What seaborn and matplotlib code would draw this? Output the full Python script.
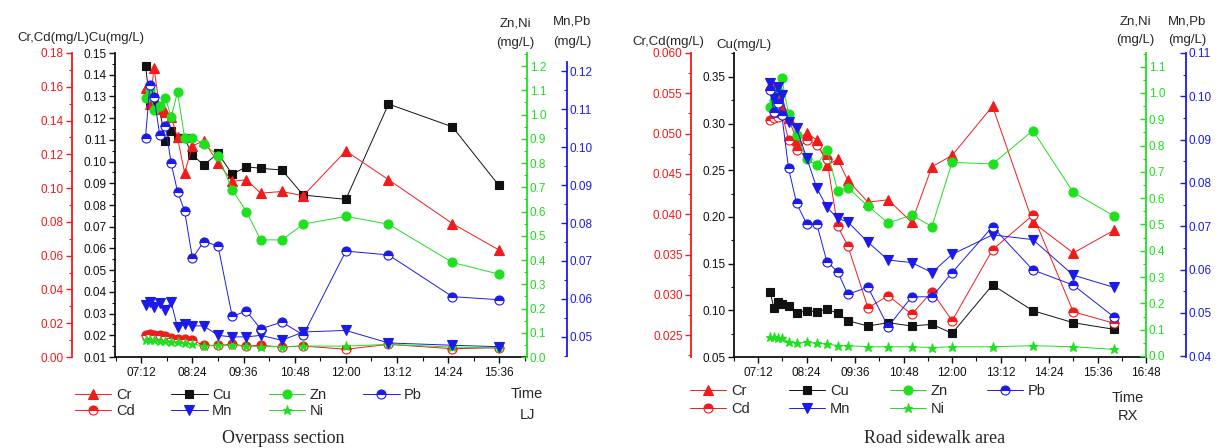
import numpy as np
import pandas as pd
import seaborn as sns
import matplotlib
matplotlib.use("Agg")
import matplotlib.pyplot as plt
from matplotlib.ticker import MultipleLocator, FormatStrFormatter, FuncFormatter

sns.set_style("white")
plt.rcParams['font.family'] = ['Liberation Sans', 'DejaVu Sans']

# ---- data: overpass section (LJ)
lj_time = ["07:18", "07:24", "07:30", "07:38", "07:46", "07:54", "08:03", "08:13", "08:24", "08:40",
           "09:00", "09:20", "09:40", "10:00", "10:30", "11:00", "12:00", "13:00", "14:30", "15:35"]
lj_cr = [0.159, 0.150, 0.171, 0.147, 0.145, 0.142, 0.130, 0.109, 0.125, 0.128,
         0.115, 0.104, 0.105, 0.097, 0.098, 0.0955, 0.122, 0.105, 0.079, 0.0635]
lj_cd = [0.0130, 0.0138, 0.0130, 0.0130, 0.0125, 0.0114, 0.0109, 0.0109, 0.0099, 0.0069,
         0.0069, 0.0075, 0.0065, 0.0069, 0.0059, 0.0065, 0.0046, 0.0075, 0.0049, 0.0055]
lj_cu = [0.144, 0.1276, 0.126, 0.1237, 0.1094, 0.114, 0.111, 0.1107, 0.103, 0.0984,
         0.1038, 0.0942, 0.0976, 0.0969, 0.0961, 0.0846, 0.0826, 0.1265, 0.116, 0.0892]
lj_zn = [1.069, 1.10, 1.019, 1.037, 1.069, 0.989, 1.092, 0.904, 0.904, 0.879,
         0.831, 0.69, 0.60, 0.483, 0.483, 0.548, 0.58, 0.548, 0.39, 0.342]
lj_ni = [0.070, 0.070, 0.070, 0.068, 0.066, 0.062, 0.060, 0.058, 0.054, 0.045,
         0.048, 0.048, 0.045, 0.043, 0.043, 0.045, 0.045, 0.052, 0.041, 0.037]
lj_mn = [0.0584, 0.0592, 0.0579, 0.0588, 0.0572, 0.0592, 0.0525, 0.0535, 0.0529, 0.0529,
         0.0504, 0.0500, 0.0500, 0.0504, 0.0491, 0.0513, 0.0517, 0.0484, 0.0478, 0.0474]
lj_pb = [0.1025, 0.1165, 0.1133, 0.1031, 0.1056, 0.0958, 0.0883, 0.0832, 0.0707, 0.0751,
         0.0740, 0.0554, 0.0568, 0.0521, 0.0539, 0.0505, 0.0726, 0.0716, 0.0606, 0.0598]

# ---- data: road sidewalk area (RX)
rx_time = ["07:30", "07:35", "07:41", "07:47", "07:57", "08:09", "08:24", "08:39", "08:54", "09:10",
           "09:25", "09:55", "10:25", "11:00", "11:30", "12:00", "13:00", "14:00", "15:00", "16:00"]
rx_cr = [0.0560, 0.0557, 0.0548, 0.0532, 0.0519, 0.0492, 0.0501, 0.0492, 0.0461, 0.0468,
         0.0442, 0.0415, 0.0418, 0.0390, 0.0459, 0.0473, 0.0534, 0.0390, 0.0352, 0.0380]
rx_cd = [0.0517, 0.0519, 0.0521, 0.0527, 0.0492, 0.0480, 0.0492, 0.0486, 0.0468, 0.0385,
         0.0361, 0.0284, 0.0299, 0.0276, 0.0304, 0.0268, 0.0356, 0.0399, 0.0279, 0.0265]
rx_cu = [0.1193, 0.1028, 0.1092, 0.1067, 0.1046, 0.0968, 0.0996, 0.0985, 0.1014, 0.0968,
         0.0889, 0.0832, 0.0867, 0.0832, 0.0850, 0.0754, 0.1271, 0.0996, 0.0867, 0.0797]
rx_zn = [0.948, 0.973, 1.009, 1.056, 0.920, 0.840, 0.749, 0.726, 0.783, 0.629,
         0.640, 0.570, 0.505, 0.536, 0.492, 0.736, 0.730, 0.857, 0.622, 0.533]
rx_ni = [0.072, 0.072, 0.070, 0.0665, 0.054, 0.051, 0.052, 0.048, 0.046, 0.039,
         0.039, 0.035, 0.035, 0.035, 0.032, 0.035, 0.035, 0.039, 0.035, 0.025]
rx_mn = [0.1030, 0.0995, 0.1021, 0.1003, 0.0941, 0.0926, 0.0858, 0.0788, 0.0744, 0.0718,
         0.0710, 0.0663, 0.0622, 0.0616, 0.0593, 0.0635, 0.0680, 0.0669, 0.0587, 0.0559]
rx_pb = [0.1015, 0.0964, 0.0985, 0.0957, 0.0834, 0.0753, 0.0705, 0.0705, 0.0618, 0.0595,
         0.0543, 0.0559, 0.0468, 0.0537, 0.0537, 0.0593, 0.0699, 0.0599, 0.0564, 0.0491]

RED = '#F21B1B'
GREEN = '#1EE01E'
BLUE = '#1B1BE8'
BLACK = '#111111'

W, H = 1218, 448
fig = plt.figure(figsize=(W / 100, H / 100), dpi=100)


def to_min(ts):
    return [int(t[:2]) * 60 + int(t[3:]) for t in ts]


def hhmm(v, pos):
    v = int(round(v))
    return f"{v // 60:02d}:{v % 60:02d}"


def ftxt(x, y, s, **kw):
    kw.setdefault('ha', 'center')
    kw.setdefault('va', 'center')
    fig.text(x / W, 1 - y / H, s, **kw)


def series(ax, x, y, color, marker, half=False, ms=6.5, label=None):
    kw = dict(color=color, marker=marker, markersize=ms, linewidth=0.7,
              markeredgecolor=color, markeredgewidth=0.8, label=label, legend=False)
    if half:
        kw.update(fillstyle='top', markerfacecolor=color, markerfacecoloralt='white')
    else:
        kw.update(markerfacecolor=color)
    sns.lineplot(x=x, y=y, ax=ax, **kw)


def style_y(ax, color, lim, major, minor, fmt, side, pos=None, bounds=None):
    ax.set_ylim(*lim)
    ax.yaxis.set_major_locator(MultipleLocator(major))
    ax.yaxis.set_minor_locator(MultipleLocator(minor))
    ax.yaxis.set_major_formatter(FormatStrFormatter(fmt))
    ax.set_ylabel('')
    for s in ['top', 'bottom', 'left', 'right']:
        ax.spines[s].set_visible(s == side)
    sp = ax.spines[side]
    sp.set_color(color)
    sp.set_linewidth(1.3)
    if pos is not None:
        sp.set_position(('axes', pos))
    if bounds is not None:
        sp.set_bounds(*bounds)
    if side == 'left':
        ax.yaxis.tick_left()
        d = 'out'
    else:
        ax.yaxis.tick_right()
        d = 'in'
    ax.tick_params(axis='y', which='both', direction=d, colors=color, labelsize=8.5, pad=2)
    ax.tick_params(axis='y', which='major', length=4, width=1)
    ax.tick_params(axis='y', which='minor', length=2.5, width=0.8)


def panel(left_px, times, cr, cd, cu, zn, ni, mn, pb, xlim, ylims, fmts, steps, blue_bounds=None):
    ax = fig.add_axes([left_px / W, (H - 357) / H, 412 / W, 304 / H])
    ax.set_facecolor('none')
    t = to_min(times)
    ax_red = ax.twinx()
    ax_green = ax.twinx()
    ax_blue = ax.twinx()

    series(ax, t, cu, BLACK, 's', ms=6, label='Cu')
    series(ax_red, t, cr, RED, '^', ms=7, label='Cr')
    series(ax_red, t, cd, RED, 'o', half=True, ms=6.5, label='Cd')
    series(ax_green, t, zn, GREEN, 'o', ms=6.5, label='Zn')
    series(ax_green, t, ni, GREEN, '*', ms=6.5, label='Ni')
    series(ax_blue, t, mn, BLUE, 'v', ms=7, label='Mn')
    series(ax_blue, t, pb, BLUE, 'o', half=True, ms=6.5, label='Pb')

    style_y(ax, BLACK, ylims['cu'], *steps['cu'], fmts['cu'], 'left')
    ax.spines['bottom'].set_visible(True)
    ax.spines['bottom'].set_color(BLACK)
    ax.spines['bottom'].set_linewidth(1.3)
    style_y(ax_red, RED, ylims['red'], *steps['red'], fmts['red'], 'left', pos=-43 / 412)
    style_y(ax_green, GREEN, ylims['green'], *steps['green'], fmts['green'], 'right')
    style_y(ax_blue, BLUE, ylims['blue'], *steps['blue'], fmts['blue'], 'right',
            pos=1 + 40 / 412, bounds=blue_bounds)

    ax.set_xlim(*xlim)
    ax.xaxis.set_major_locator(MultipleLocator(72))
    ax.xaxis.set_minor_locator(MultipleLocator(36))
    ax.xaxis.set_major_formatter(FuncFormatter(hhmm))
    ax.set_xlabel('')
    ax.tick_params(axis='x', which='both', direction='out', colors=BLACK, labelsize=8.5, pad=3,
                   bottom=True)
    ax.tick_params(axis='x', which='major', length=4, width=1)
    ax.tick_params(axis='x', which='minor', length=3, width=0.8)

    lines = {}
    for a in [ax, ax_red, ax_green, ax_blue]:
        for ln in a.get_lines():
            lines[ln.get_label()] = ln
    order = ['Cr', 'Cd', 'Cu', 'Mn', 'Zn', 'Ni', 'Pb']
    return [lines[k] for k in order], order


# ---- left panel
h, l = panel(115, lj_time, lj_cr, lj_cd, lj_cu, lj_zn, lj_ni, lj_mn, lj_pb,
             xlim=(395, 975),
             ylims={'cu': (0.01, 0.15), 'red': (0.0, 0.18), 'green': (0.0, 1.254), 'blue': (0.0447, 0.1248)},
             fmts={'cu': '%.2f', 'red': '%.2f', 'green': '%.1f', 'blue': '%.2f'},
             steps={'cu': (0.01, 0.005), 'red': (0.02, 0.01), 'green': (0.1, 0.05), 'blue': (0.01, 0.005)},
             blue_bounds=(0.045, 0.1225))
fig.legend(h, l, ncol=4, loc='upper left', bbox_to_anchor=(75 / W, 1 - 388 / H), frameon=False,
           fontsize=10.5, handlelength=2.5, handletextpad=0.3, columnspacing=2.5,
           labelspacing=0.15, borderpad=0, borderaxespad=0)
ftxt(81, 38, 'Cr,Cd(mg/L)Cu(mg/L)', fontsize=9.5)
ftxt(515, 23, 'Zn,Ni', fontsize=9.5)
ftxt(515, 43, '(mg/L)', fontsize=9.5)
ftxt(572, 22, 'Mn,Pb', fontsize=9.5)
ftxt(572, 42, '(mg/L)', fontsize=9.5)
ftxt(527, 394, 'Time', fontsize=10.5)
ftxt(527, 415, 'LJ', fontsize=10.5)
ftxt(283, 438, 'Overpass section', family=['Liberation Serif', 'DejaVu Serif'], fontsize=13)

# ---- right panel
h, l = panel(734, rx_time, rx_cr, rx_cd, rx_cu, rx_zn, rx_ni, rx_mn, rx_pb,
             xlim=(396, 1008),
             ylims={'cu': (0.05, 0.3755), 'red': (0.0223, 0.060), 'green': (-0.004, 1.152), 'blue': (0.0398, 0.110)},
             fmts={'cu': '%.2f', 'red': '%.3f', 'green': '%.1f', 'blue': '%.2f'},
             steps={'cu': (0.05, 0.025), 'red': (0.005, 0.0025), 'green': (0.1, 0.05), 'blue': (0.01, 0.005)})
fig.legend(h, l, ncol=4, loc='upper left', bbox_to_anchor=(690 / W, 1 - 384 / H), frameon=False,
           fontsize=10.5, handlelength=2.5, handletextpad=0.3, columnspacing=2.7,
           labelspacing=0.3, borderpad=0, borderaxespad=0)
ftxt(668, 42, 'Cr,Cd(mg/L)', fontsize=9.5)
ftxt(744, 45, 'Cu(mg/L)', fontsize=9.5)
ftxt(1135, 21, 'Zn,Ni', fontsize=9.5)
ftxt(1135, 40, '(mg/L)', fontsize=9.5)
ftxt(1187, 21, 'Mn,Pb', fontsize=9.5)
ftxt(1187, 40, '(mg/L)', fontsize=9.5)
ftxt(1128, 398, 'Time', fontsize=10.5)
ftxt(1128, 416, 'RX', fontsize=10.5)
ftxt(935, 438, 'Road sidewalk area', family=['Liberation Serif', 'DejaVu Serif'], fontsize=13)

fig.savefig('out.png', dpi=100)
